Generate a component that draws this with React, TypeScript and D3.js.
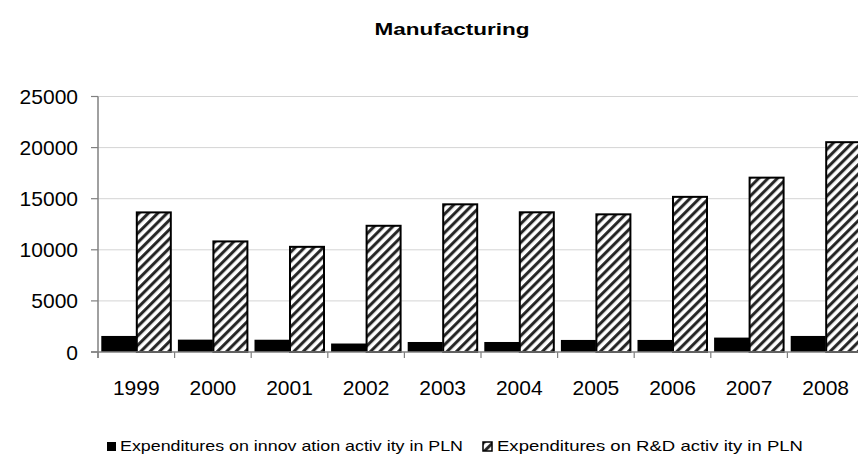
import React from "react";
import * as d3 from "d3";

const years = ["1999", "2000", "2001", "2002", "2003", "2004", "2005", "2006", "2007", "2008"];
const innovation = [1570, 1210, 1200, 830, 980, 980, 1180, 1180, 1410, 1570];
const rnd = [13660, 10820, 10290, 12350, 14450, 13670, 13470, 15180, 17060, 20530];
const yTicks = [0, 5000, 10000, 15000, 20000, 25000];
const seriesNames = [
  "Expenditures on innov ation activ ity  in PLN",
  "Expenditures on R&D activ ity  in PLN",
];

const W = 858;
const H = 457;
const font = "'Liberation Sans', Arial, sans-serif";

const App: React.FC = () => {
  const left = 98;
  const step = 76.6;
  const x0 = d3
    .scaleBand<string>()
    .domain(years)
    .range([left, left + step * years.length])
    .padding(0);
  const x1 = d3
    .scaleBand<string>()
    .domain(["inno", "rd"])
    .range([3.3, step - 3.3]);
  const y = d3.scaleLinear().domain([0, 25000]).range([352, 96.5]);

  const boundaries = years.map((yr) => x0(yr) as number);

  return (
    <div style={{ position: "absolute", left: 0, top: 0 }}>
      <svg width={W} height={H} style={{ display: "block", background: "#fff" }}>
        <defs>
          <pattern
            id="hatch"
            patternUnits="userSpaceOnUse"
            width={6.6}
            height={6.6}
            patternTransform="rotate(45)"
          >
            <rect width={6.6} height={6.6} fill="#fff" />
            <line x1={1.6} y1={0} x2={1.6} y2={6.6} stroke="#222" strokeWidth={3} />
          </pattern>
        </defs>

        {/* title */}
        <text
          x={452}
          y={35}
          textAnchor="middle"
          fontFamily={font}
          fontWeight="bold"
          fontSize={17}
          textLength={155}
          lengthAdjust="spacingAndGlyphs"
        >
          Manufacturing
        </text>

        {/* grid */}
        {yTicks.slice(1).map((t) => (
          <line key={t} x1={left} x2={W} y1={y(t)} y2={y(t)} stroke="#d4d4d4" strokeWidth={1} />
        ))}

        {/* bars */}
        {years.map((yr, i) => (
          <g key={yr} transform={`translate(${x0(yr)},0)`}>
            <rect
              x={x1("inno")}
              y={y(innovation[i])}
              width={x1.bandwidth()}
              height={y(0) - y(innovation[i])}
              fill="#000"
            />
            <rect
              x={(x1("rd") as number) + 0.5}
              y={y(rnd[i])}
              width={x1.bandwidth() - 1}
              height={y(0) - y(rnd[i])}
              fill="url(#hatch)"
              stroke="#000"
              strokeWidth={2}
            />
          </g>
        ))}

        {/* y axis */}
        <line x1={left} x2={left} y1={y(25000)} y2={y(0) + 6} stroke="#808080" strokeWidth={1.5} />
        {yTicks.map((t) => (
          <g key={t}>
            <line x1={left - 7} x2={left} y1={y(t)} y2={y(t)} stroke="#808080" strokeWidth={1.2} />
            <text
              x={78}
              y={y(t)}
              dy="0.36em"
              textAnchor="end"
              fontFamily={font}
              fontSize={21}
              fill="#000"
            >
              {t}
            </text>
          </g>
        ))}

        {/* x axis */}
        <line x1={left - 7} x2={W} y1={y(0)} y2={y(0)} stroke="#808080" strokeWidth={1.5} />
        {boundaries.map((b, i) => (
          <line key={i} x1={b} x2={b} y1={y(0)} y2={y(0) + 6} stroke="#808080" strokeWidth={1.2} />
        ))}
        {years.map((yr) => (
          <text
            key={yr}
            x={(x0(yr) as number) + x0.bandwidth() / 2}
            y={395}
            textAnchor="middle"
            fontFamily={font}
            fontSize={21}
            fill="#000"
          >
            {yr}
          </text>
        ))}

        {/* legend */}
        <rect x={107} y={442} width={9} height={9} fill="#000" />
        <text
          x={120}
          y={451}
          fontFamily={font}
          fontSize={15}
          textLength={343}
          lengthAdjust="spacingAndGlyphs"
        >
          {seriesNames[0]}
        </text>
        <rect x={483} y={442} width={9} height={9} fill="url(#hatch)" stroke="#000" strokeWidth={1.5} />
        <text
          x={497}
          y={451}
          fontFamily={font}
          fontSize={15}
          textLength={306}
          lengthAdjust="spacingAndGlyphs"
        >
          {seriesNames[1]}
        </text>
      </svg>
    </div>
  );
};

export default App;
